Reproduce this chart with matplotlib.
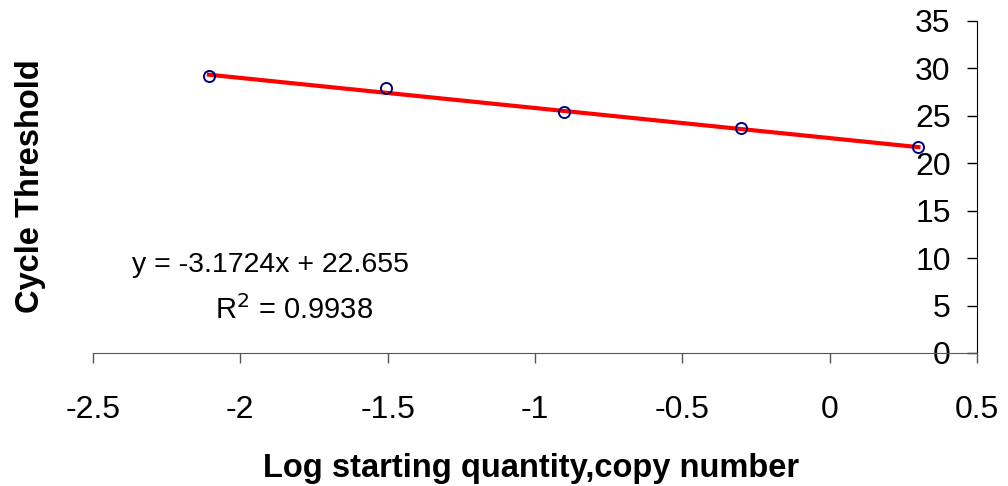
import numpy as np
import matplotlib
matplotlib.use('Agg')
import matplotlib.pyplot as plt

# du lieu doc tu hinh
log_qty = [-2.107, -1.505, -0.903, -0.301, 0.301]
ct = [29.2, 27.95, 25.45, 23.75, 21.7]
slope = -3.1724
intercept = 22.655
xticks = [-2.5, -2, -1.5, -1, -0.5, 0, 0.5]
yticks = [0, 5, 10, 15, 20, 25, 30, 35]

plt.rcParams['font.family'] = ['Liberation Sans', 'DejaVu Sans']

fig = plt.figure(figsize=(10.08, 4.86), dpi=100)
ax = fig.add_axes([0.0923, 0.2737, 0.8770, 0.6831])

# duong xu huong
xl = np.array([log_qty[0], log_qty[-1]])
ax.plot(xl, slope * xl + intercept, color='red', lw=3, zorder=2)
ax.plot(log_qty, ct, 'o', mfc='none', mec='#000080', ms=8, mew=1.4, zorder=3)

ax.set_xlim(-2.5, 0.5)
ax.set_ylim(0, 35)
ax.set_xticks(xticks)
ax.set_xticklabels(['-2.5', '-2', '-1.5', '-1', '-0.5', '0', '0.5'])
ax.set_yticks(yticks)

# truc y nam o ben phai (x = 0.5)
ax.spines['left'].set_position(('data', 0.5))
ax.spines['right'].set_visible(False)
ax.spines['top'].set_visible(False)
ax.spines['bottom'].set_color('#555555')
ax.tick_params(axis='x', direction='out', length=7, width=1, color='#555555',
               labelsize=23, pad=23)
ax.tick_params(axis='y', direction='out', length=7, width=1, labelsize=23, pad=12)

fig.text(0.268, 0.455, 'y = -3.1724x + 22.655', fontsize=20.5, ha='center', va='center')
fig.text(0.292, 0.362, r'R$^2$ = 0.9938', fontsize=21, ha='center', va='center')

fig.text(0.527, 0.037, 'Log starting quantity,copy number', fontsize=23.5,
         fontweight='bold', ha='center', va='center')
fig.text(0.03, 0.617, 'Cycle Threshold', fontsize=23.5, fontweight='bold',
         rotation=90, ha='center', va='center')

plt.savefig('out.png', dpi=100)
